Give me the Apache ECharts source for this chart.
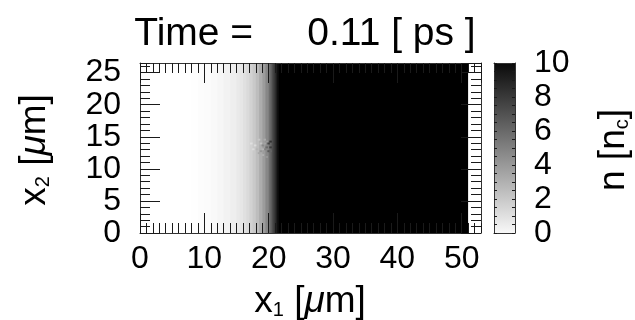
<!DOCTYPE html>
<html>
<head>
<meta charset="utf-8">
<script src="https://cdn.jsdelivr.net/npm/echarts@6/dist/echarts.min.js"></script>
<style>
html,body{margin:0;padding:0;background:#fff;}
#c{width:635px;height:320px;}
</style>
</head>
<body>
<div id="c"></div>
<script>
// ---- data ----
var titleText = 'Time =     0.11 [ ps ]';
var x1Max = 53;
var x2Max = 26.5;
var nMax = 10;
// density profile along x1: left edges of bands and density in each band [n_c]
var profileX = [0, 8, 9, 10, 11, 12, 13, 14, 15, 15.5, 16, 16.5, 17, 17.5, 18, 18.5, 19, 19.5, 20, 20.25, 20.5, 20.75, 21, 21.25, 21.5, 51, 53];
var profileN = [0, 0.05, 0.1, 0.15, 0.25, 0.35, 0.5, 0.65, 0.85, 1.0, 1.2, 1.45, 1.75, 2.1, 2.6, 3.2, 3.9, 4.7, 5.7, 6.3, 7.0, 7.8, 8.6, 9.4, 10.5, 0];
// speckled region near the front: cells of 0.3 um at (x1, x2) with density n
var speckX = [17.7, 18.0, 18.3, 18.6, 18.9, 18.9, 19.2, 19.2, 19.5, 19.5, 19.8, 19.8, 20.1, 20.1, 18.3, 17.4, 19.5, 20.1, 18.9, 17.1, 19.2, 18.6];
var speckY = [13.5, 12.9, 12.3, 13.8, 12.0, 13.5, 14.4, 12.9, 13.2, 14.1, 12.6, 13.8, 13.2, 12.6, 14.4, 12.9, 11.7, 14.1, 12.9, 13.8, 13.8, 12.6];
var speckN = [1.4, 2.9, 3.4, 2.4, 3.1, 4.6, 3.3, 5.0, 5.9, 4.0, 6.6, 7.4, 7.6, 6.0, 2.2, 1.4, 4.1, 8.0, 3.0, 1.2, 3.6, 4.1];

// ---- build series data ----
var bandData = [];
for (var i = 0; i < profileN.length; i++) {
  bandData.push([profileX[i], profileX[i + 1], 0, x2Max, profileN[i]]);
}
var speckData = [];
for (var j = 0; j < speckN.length; j++) {
  speckData.push([speckX[j], speckX[j] + 0.3, speckY[j], speckY[j] + 0.3, speckN[j]]);
}

function rectItem(params, api) {
  var a = api.coord([api.value(0), api.value(3)]);
  var b = api.coord([api.value(1), api.value(2)]);
  return {
    type: 'rect',
    shape: {x: a[0], y: a[1], width: b[0] - a[0] + 0.6, height: b[1] - a[1]},
    style: {fill: api.visual('color')}
  };
}

var chart = echarts.init(document.getElementById('c'), null, {renderer: 'canvas'});
var FONT = 'Liberation Sans';
var frame = '#333';
var tickCol = '#1a1a1a';

function axis(gi, pos, max, interval, tickLen, showLabel, showLine, margin) {
  return {
    type: 'value', gridIndex: gi, position: pos, min: 0, max: max, interval: interval,
    axisLine: {show: showLine, onZero: false, lineStyle: {color: frame, width: 1}},
    axisTick: {show: tickLen > 0, inside: true, length: tickLen, lineStyle: {color: tickCol, width: 1}},
    minorTick: {show: false},
    axisLabel: {show: showLabel, fontSize: 32, fontFamily: FONT, color: '#000', margin: margin || 8},
    splitLine: {show: false}, z: 6
  };
}

var plotRect = {left: 140, top: 63, width: 341, height: 170};
var cbRect = {left: 494, top: 63, width: 21, height: 170};

var option = {
  backgroundColor: '#fff',
  animation: false,
  grid: [
    plotRect,
    Object.assign({}, plotRect),
    cbRect,
    Object.assign({}, cbRect)
  ],
  xAxis: [
    axis(0, 'bottom', x1Max, 10, 20, true, true, 10),
    axis(0, 'top', x1Max, 10, 20, false, true),
    axis(1, 'bottom', x1Max, 1, 10, false, false),
    axis(1, 'top', x1Max, 1, 10, false, false),
    axis(2, 'bottom', 1, 1, 0, false, true),
    axis(2, 'top', 1, 1, 0, false, true),
    axis(3, 'bottom', 1, 1, 0, false, false),
    axis(3, 'top', 1, 1, 0, false, false)
  ],
  yAxis: [
    axis(0, 'left', x2Max, 5, 20, true, true, 19),
    axis(0, 'right', x2Max, 5, 20, false, true),
    axis(1, 'left', x2Max, 1, 10, false, false),
    axis(1, 'right', x2Max, 1, 10, false, false),
    axis(2, 'right', nMax, 2, 0, true, true, 19),
    axis(2, 'left', nMax, 2, 0, false, true),
    axis(3, 'left', nMax, 0.5, 3, false, false),
    axis(3, 'right', nMax, 0.5, 3, false, false)
  ],
  visualMap: {
    show: false, type: 'continuous', min: 0, max: nMax, dimension: 4,
    seriesIndex: [0, 1], inRange: {color: ['#ffffff', '#000000']}
  },
  series: [
    {type: 'custom', xAxisIndex: 0, yAxisIndex: 0, renderItem: rectItem, data: bandData, clip: true, z: 1},
    {type: 'custom', xAxisIndex: 0, yAxisIndex: 0, renderItem: rectItem, data: speckData, clip: true, z: 2},
    {type: 'custom', xAxisIndex: 4, yAxisIndex: 4, data: [[0, 1, 0, nMax]], z: 1,
     renderItem: function (params, api) {
       var a = api.coord([api.value(0), api.value(3)]);
       var b = api.coord([api.value(1), api.value(2)]);
       return {type: 'rect', shape: {x: a[0], y: a[1], width: b[0] - a[0], height: b[1] - a[1]},
         style: {fill: new echarts.graphic.LinearGradient(0, 0, 0, 1, [
           {offset: 0, color: '#0a0a0a'}, {offset: 1, color: '#f8f8f8'}])}};
     }}
  ],
  graphic: [
    {type: 'text', x: 305, y: 34, style: {text: titleText, font: '39px "Liberation Sans"', fill: '#000', align: 'center', verticalAlign: 'middle'}},
    {type: 'text', x: 310, y: 300, style: {
      text: '{a|x}{s|1}{a| [}{m|μ}{a|m]}', align: 'center', verticalAlign: 'middle',
      rich: {a: {fontSize: 37, fontFamily: FONT, fill: '#000', verticalAlign: 'bottom', lineHeight: 40},
             s: {fontSize: 20, fontFamily: FONT, fill: '#000', verticalAlign: 'bottom', lineHeight: 28},
             m: {fontSize: 37, fontFamily: FONT, fontStyle: 'italic', fill: '#000', verticalAlign: 'bottom', lineHeight: 40}}}},
    {type: 'text', x: 33, y: 150, rotation: Math.PI / 2, style: {
      text: '{a|x}{s|2}{a| [}{m|μ}{a|m]}', align: 'center', verticalAlign: 'middle',
      rich: {a: {fontSize: 37, fontFamily: FONT, fill: '#000', verticalAlign: 'bottom', lineHeight: 40},
             s: {fontSize: 20, fontFamily: FONT, fill: '#000', verticalAlign: 'bottom', lineHeight: 28},
             m: {fontSize: 37, fontFamily: FONT, fontStyle: 'italic', fill: '#000', verticalAlign: 'bottom', lineHeight: 40}}}},
    {type: 'text', x: 612, y: 150, rotation: Math.PI / 2, style: {
      text: '{a|n [n}{s|c}{a|]}', align: 'center', verticalAlign: 'middle',
      rich: {a: {fontSize: 37, fontFamily: FONT, fill: '#000', verticalAlign: 'bottom', lineHeight: 40},
             s: {fontSize: 20, fontFamily: FONT, fill: '#000', verticalAlign: 'bottom', lineHeight: 28}}}}
  ]
};
chart.setOption(option);
</script>
</body>
</html>
